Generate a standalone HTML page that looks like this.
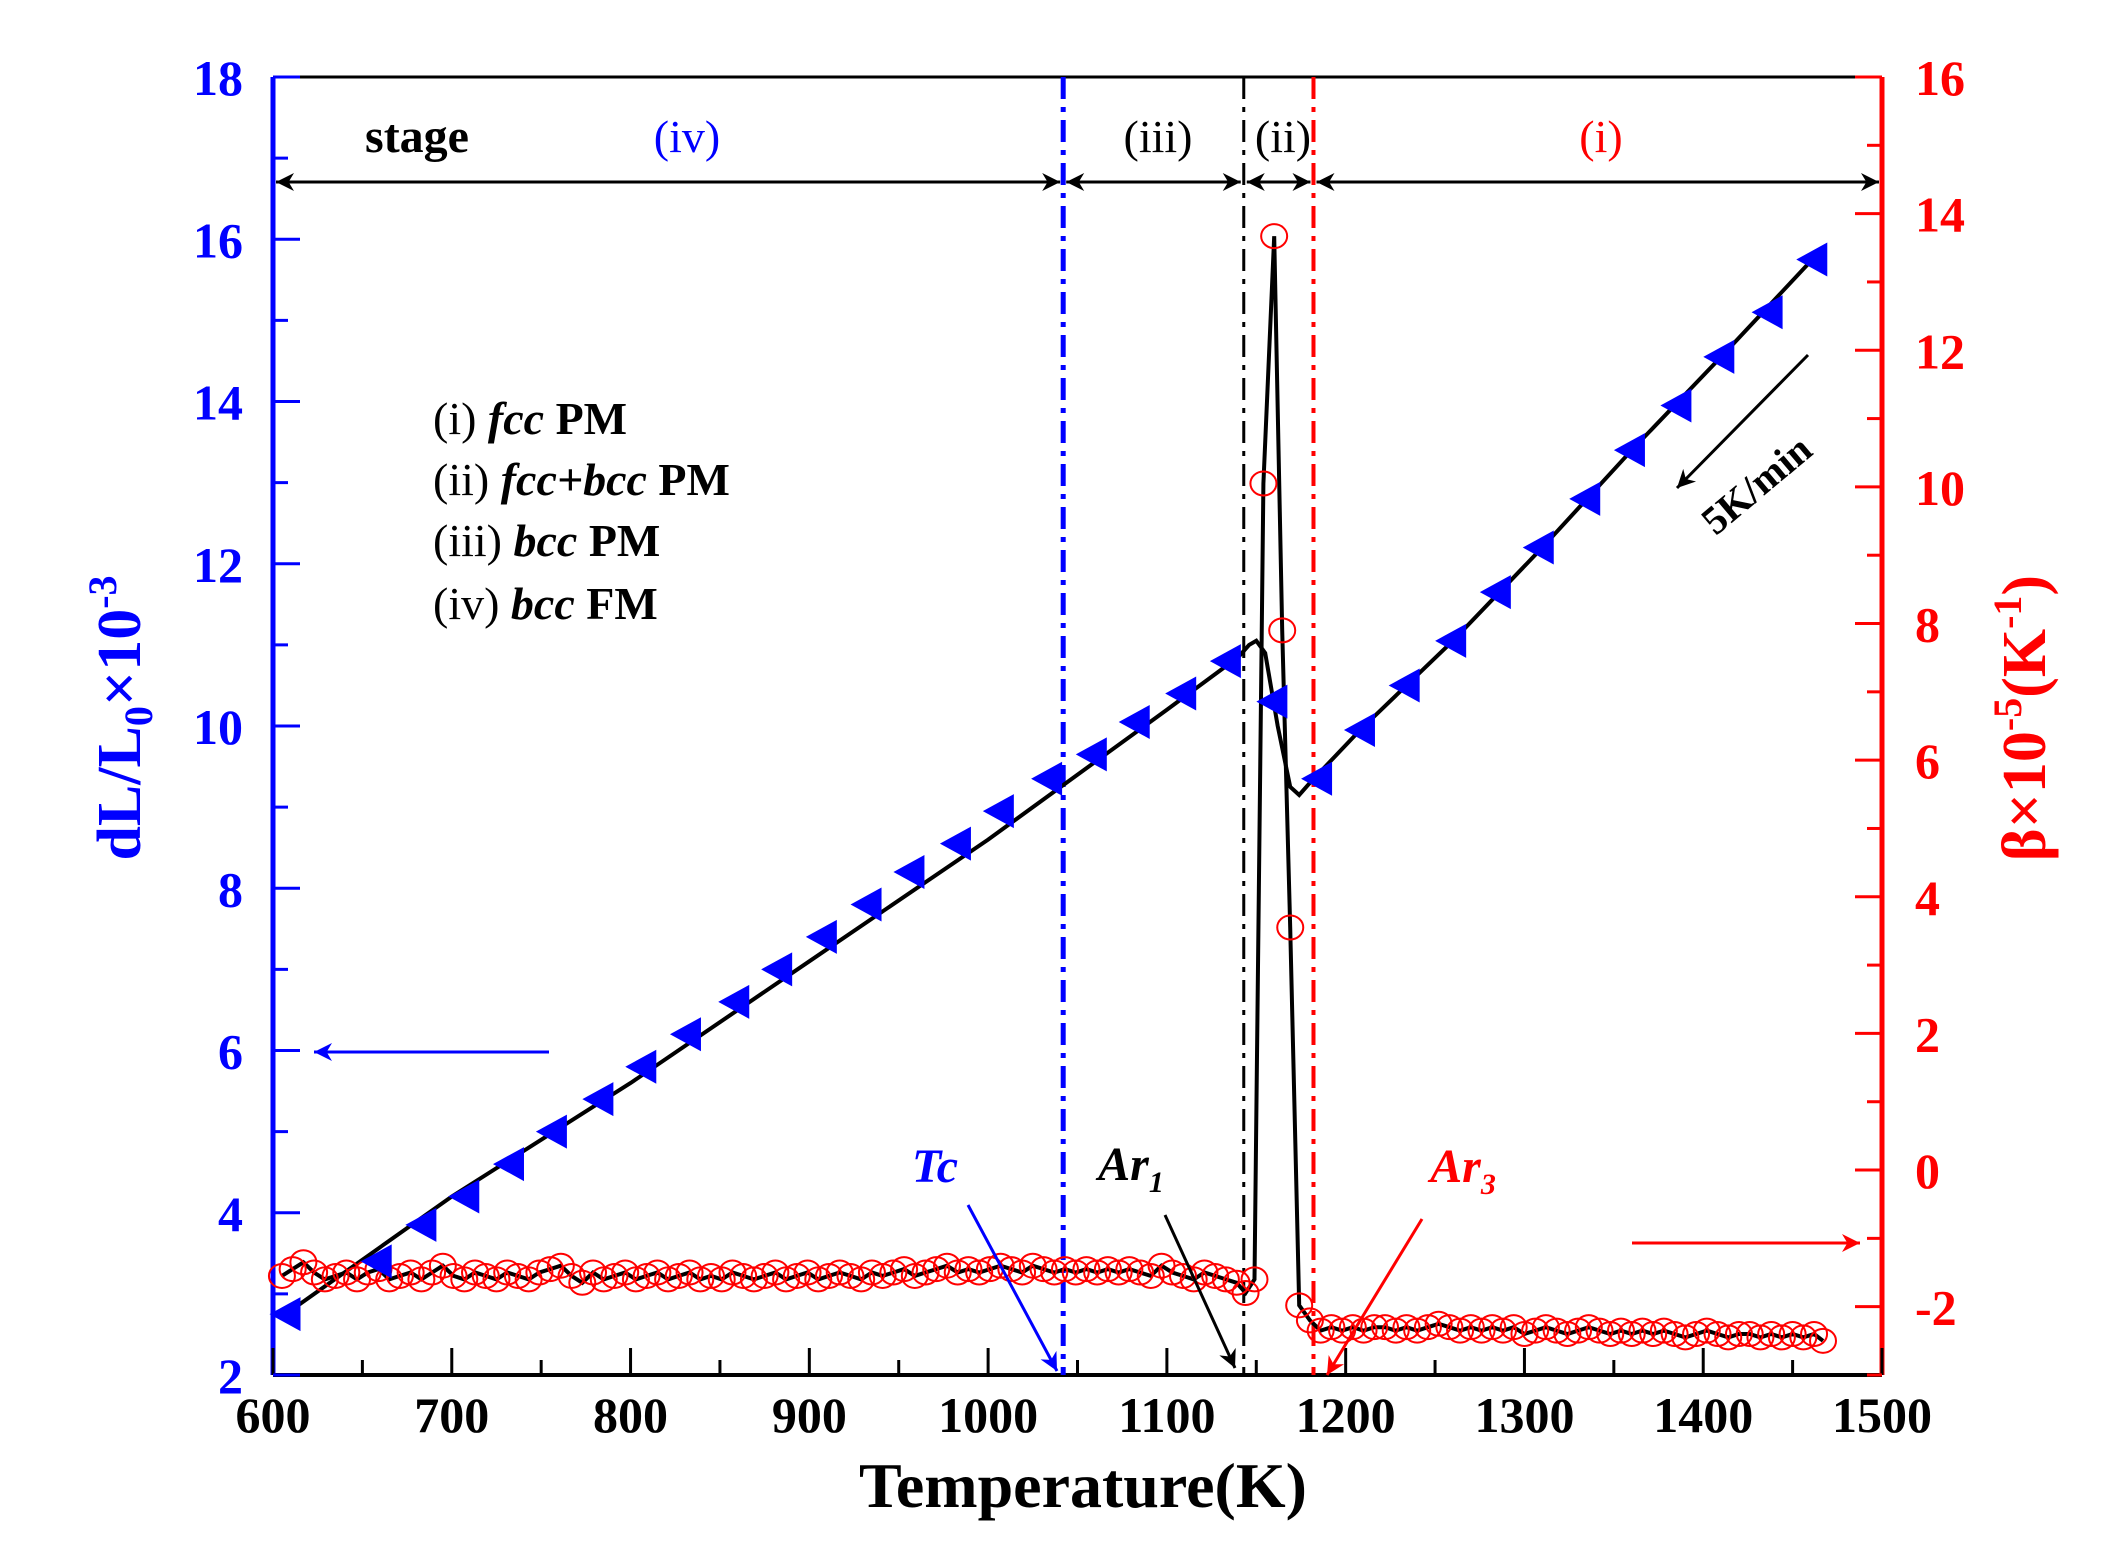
<!DOCTYPE html>
<html><head><meta charset="utf-8"><style>
html,body{margin:0;padding:0;background:#fff;}
svg{display:block;font-family:"Liberation Serif",serif;}
</style></head><body>
<svg id="chart" width="2113" height="1561" viewBox="0 0 2113 1561" xmlns="http://www.w3.org/2000/svg">
<defs>
<marker id="ahs" viewBox="0 0 10 10" refX="10" refY="5" markerWidth="24" markerHeight="18" orient="auto-start-reverse" markerUnits="userSpaceOnUse"><path d="M0,0 L10,5 L0,10 L3,5 z" fill="#000"/></marker>
<marker id="ahb" viewBox="0 0 10 10" refX="10" refY="5" markerWidth="24" markerHeight="18" orient="auto" markerUnits="userSpaceOnUse"><path d="M0,0 L10,5 L0,10 L3,5 z" fill="#00f"/></marker>
<marker id="ahr" viewBox="0 0 10 10" refX="10" refY="5" markerWidth="24" markerHeight="18" orient="auto" markerUnits="userSpaceOnUse"><path d="M0,0 L10,5 L0,10 L3,5 z" fill="#f00"/></marker>
</defs>
<g id="plot"></g>
</svg>
<script>
// ---- data ----
const xTicks = [600,700,800,900,1000,1100,1200,1300,1400,1500];
const yLeftTicks = [2,4,6,8,10,12,14,16,18];
const yRightTicks = [-2,0,2,4,6,8,10,12,14,16];
const triT = [607,658,683,707,732,756,782,806,831,858,882,907,932,956,982,1006,1033,1058,1082,1108,1133,1159,1184,1208,1233,1259,1284,1308,1334,1359,1385,1409,1436,1461];
const triV = [2.75,3.4,3.85,4.2,4.6,5.0,5.4,5.8,6.2,6.6,7.0,7.4,7.8,8.2,8.55,8.95,9.35,9.65,10.05,10.4,10.8,10.3,9.35,9.95,10.5,11.05,11.65,12.2,12.8,13.4,13.95,14.55,15.1,15.75];
const lineT = [607,700,800,900,1000,1100,1140,1146,1150,1155,1162,1169,1174,1180,1208,1260,1310,1360,1410,1461];
const lineV = [2.75,4.2,5.6,7.1,8.6,10.2,10.85,11.0,11.05,10.9,10.0,9.25,9.15,9.3,9.95,11.05,12.2,13.4,14.55,15.75];
const betaT = [605,611,617,623,629,635,641,647,653,659,665,671,677,683,689,695,701,707,713,719,725,731,737,743,749,755,761,767,773,779,785,791,797,803,809,815,821,827,833,839,845,851,857,863,869,875,881,887,893,899,905,911,917,923,929,935,941,947,953,959,965,971,977,983,989,995,1001,1007,1013,1019,1025,1031,1037,1043,1049,1055,1061,1067,1073,1079,1085,1091,1097,1103,1109,1115,1121,1127,1133,1139,1144,1149,1154,1160,1164.5,1169,1174,1180,1186,1192,1198,1204,1210,1216,1222,1228,1234,1240,1246,1252,1258,1264,1270,1276,1282,1288,1294,1300,1306,1312,1318,1324,1330,1336,1342,1348,1354,1360,1366,1372,1378,1384,1390,1396,1402,1408,1414,1420,1426,1432,1438,1444,1450,1456,1462,1467];
const betaV = [-1.55,-1.45,-1.35,-1.5,-1.6,-1.55,-1.5,-1.6,-1.5,-1.45,-1.6,-1.55,-1.5,-1.6,-1.5,-1.4,-1.55,-1.6,-1.5,-1.55,-1.6,-1.5,-1.55,-1.6,-1.5,-1.45,-1.4,-1.55,-1.65,-1.5,-1.6,-1.55,-1.5,-1.6,-1.55,-1.5,-1.6,-1.55,-1.5,-1.6,-1.55,-1.6,-1.5,-1.55,-1.6,-1.55,-1.5,-1.6,-1.55,-1.5,-1.6,-1.55,-1.5,-1.55,-1.6,-1.5,-1.55,-1.5,-1.45,-1.55,-1.5,-1.45,-1.4,-1.5,-1.45,-1.5,-1.45,-1.4,-1.45,-1.5,-1.4,-1.45,-1.5,-1.45,-1.5,-1.45,-1.5,-1.45,-1.5,-1.45,-1.5,-1.55,-1.4,-1.5,-1.55,-1.6,-1.5,-1.55,-1.6,-1.65,-1.8,-1.6,10.05,13.67,7.9,3.55,-1.98,-2.2,-2.35,-2.3,-2.35,-2.3,-2.35,-2.3,-2.3,-2.35,-2.3,-2.35,-2.3,-2.25,-2.3,-2.35,-2.3,-2.35,-2.3,-2.35,-2.3,-2.4,-2.35,-2.3,-2.35,-2.4,-2.35,-2.3,-2.35,-2.4,-2.35,-2.4,-2.35,-2.4,-2.35,-2.4,-2.45,-2.4,-2.35,-2.4,-2.45,-2.4,-2.4,-2.45,-2.4,-2.45,-2.4,-2.45,-2.4,-2.5];
const vlineT = [1042,1143,1182];
// ---- axes ----
const X0=273, X1=1882, Y0=77, Y1=1375;
const xs = t => X0 + (t-600)/900*(X1-X0);
const yl = v => Y1 - (v-2)/16*(Y1-Y0);
const yr = v => Y1 - (v+3)/19*(Y1-Y0);
const NS="http://www.w3.org/2000/svg";
const g=document.getElementById('plot');
function mk(tag,attrs,parent){const e=document.createElementNS(NS,tag);for(const k in attrs)e.setAttribute(k,attrs[k]);(parent||g).appendChild(e);return e;}

const frame=mk('g',{});


mk('line',{x1:X0,y1:Y0,x2:X1,y2:Y0,stroke:'#000','stroke-width':3},frame);
mk('line',{x1:X0,y1:Y1,x2:X1,y2:Y1,stroke:'#000','stroke-width':4},frame);
mk('line',{x1:X0,y1:Y0,x2:X0,y2:Y1,stroke:'#00f','stroke-width':5},frame);
mk('line',{x1:X1,y1:Y0,x2:X1,y2:Y1,stroke:'#f00','stroke-width':5},frame);

const xax=mk('g',{});


for(let t=600;t<=1500;t+=50){const major=t%100===0;mk('line',{x1:xs(t),y1:Y1,x2:xs(t),y2:Y1-(major?27:15),stroke:'#000','stroke-width':3},xax);}
xTicks.forEach(t=>{const e=mk('text',{x:xs(t),y:1432,'text-anchor':'middle','font-size':50,'font-weight':'bold',fill:'#000'},xax);e.textContent=t;

});

const ylax=mk('g',{});


for(let v=2;v<=18;v+=1){const major=v%2===0;mk('line',{x1:X0,y1:yl(v),x2:X0+(major?27:15),y2:yl(v),stroke:'#00f','stroke-width':3},ylax);}
yLeftTicks.forEach(v=>{const e=mk('text',{x:243,y:yl(v)+18,'text-anchor':'end','font-size':50,'font-weight':'bold',fill:'#00f'},ylax);e.textContent=v;

});

const yrax=mk('g',{});


for(let v=-3;v<=16;v+=1){const major=v%2===0;mk('line',{x1:X1,y1:yr(v),x2:X1-(major?27:15),y2:yr(v),stroke:'#f00','stroke-width':3},yrax);}
yRightTicks.forEach(v=>{const e=mk('text',{x:1915,y:yr(v)+18,'text-anchor':'start','font-size':50,'font-weight':'bold',fill:'#f00'},yrax);e.textContent=v;

});

const vcols=['#00f','#000','#f00'], vw=[5,3,4];
vlineT.forEach((t,i)=>{const e=mk('line',{x1:xs(t),y1:Y0,x2:xs(t),y2:Y1,stroke:vcols[i],'stroke-width':vw[i],'stroke-dasharray':'22,8,5,8'});

});

const bounds=[600].concat(vlineT).concat([1500]);
for(let i=0;i<bounds.length-1;i++){const e=mk('line',{x1:xs(bounds[i])+3,y1:182,x2:xs(bounds[i+1])-3,y2:182,stroke:'#000','stroke-width':3,'marker-start':'url(#ahs)','marker-end':'url(#ahs)'});

}

let d='';lineT.forEach((t,i)=>{d+=(i?'L':'M')+xs(t).toFixed(1)+','+yl(lineV[i]).toFixed(1);});
const dl=mk('path',{d:d,fill:'none',stroke:'#000','stroke-width':4});



let d2='';betaT.forEach((t,i)=>{d2+=(i?'L':'M')+xs(t).toFixed(1)+','+yr(betaV[i]).toFixed(1);});
const bl=mk('path',{d:d2,fill:'none',stroke:'#000','stroke-width':4});



const bc=mk('g',{});


betaT.forEach((t,i)=>{const c=mk('ellipse',{cx:xs(t),cy:yr(betaV[i]),rx:13,ry:12,fill:'none',stroke:'#f00','stroke-width':2},bc);

});

const tg=mk('g',{});


triT.forEach((t,i)=>{const x=xs(t),y=yl(triV[i]);const p=mk('polygon',{points:`${x-16},${y} ${x+15},${y-17} ${x+15},${y+17}`,fill:'#00f'},tg);

});

function arrow(x1,y1,x2,y2,col,m,name){const e=mk('line',{x1,y1,x2,y2,stroke:col,'stroke-width':3,'marker-end':m});

}
arrow(968,1205,1057,1371,'#00f','url(#ahb)','tc-arrow');
arrow(1165,1215,1235,1368,'#000','url(#ahs)','ar1-arrow');
arrow(1422,1219,1327,1375,'#f00','url(#ahr)','ar3-arrow');
arrow(549,1052,314,1052,'#00f','url(#ahb)','left-axis-arrow');
arrow(1632,1243,1860,1243,'#f00','url(#ahr)','right-axis-arrow');
arrow(1808,355,1677,488,'#000','url(#ahs)','cooling-rate-arrow');
</script>
<svg style="position:absolute;left:0;top:0" width="2113" height="1561">
<g font-family="Liberation Serif, serif">
<text x="417" y="152" text-anchor="middle" font-size="48" font-weight="bold">stage</text>
<text x="687" y="152" text-anchor="middle" font-size="46" fill="#00f">(iv)</text>
<text x="1158" y="152" text-anchor="middle" font-size="46">(iii)</text>
<text x="1283" y="152" text-anchor="middle" font-size="46">(ii)</text>
<text x="1601" y="152" text-anchor="middle" font-size="46" fill="#f00">(i)</text>
<g font-size="46" xml:space="preserve">
<text x="433" y="434">(i)   <tspan font-weight="bold" font-style="italic">fcc</tspan> <tspan font-weight="bold">PM</tspan></text>
<text x="433" y="495">(ii)  <tspan font-weight="bold" font-style="italic">fcc+bcc</tspan> <tspan font-weight="bold">PM</tspan></text>
<text x="433" y="556">(iii) <tspan font-weight="bold" font-style="italic">bcc</tspan> <tspan font-weight="bold">PM</tspan></text>
<text x="433" y="619">(iv)  <tspan font-weight="bold" font-style="italic">bcc</tspan> <tspan font-weight="bold">FM</tspan></text>
</g>
<text x="935" y="1182" text-anchor="middle" font-size="48" font-weight="bold" font-style="italic" fill="#00f">Tc</text>
<text x="1131" y="1180" text-anchor="middle" font-size="48" font-weight="bold" font-style="italic">Ar<tspan font-size="30" dy="12">1</tspan></text>
<text x="1463" y="1182" text-anchor="middle" font-size="48" font-weight="bold" font-style="italic" fill="#f00">Ar<tspan font-size="30" dy="12">3</tspan></text>
<text transform="translate(1765,495) rotate(-40)" text-anchor="middle" font-size="40" font-weight="bold">5K/min</text>
<text x="1083" y="1507" text-anchor="middle" font-size="64" font-weight="bold">Temperature(K)</text>
<text transform="translate(140,718) rotate(-90)" text-anchor="middle" font-size="62" font-weight="bold" fill="#00f">dL/L<tspan font-size="40" dy="12">0</tspan><tspan dy="-12">×10</tspan><tspan font-size="40" dy="-24">-3</tspan></text>
<text transform="translate(2045,718) rotate(-90)" text-anchor="middle" font-size="62" font-weight="bold" fill="#f00">β×10<tspan font-size="40" dy="-24">-5</tspan><tspan dy="24">(K</tspan><tspan font-size="40" dy="-24">-1</tspan><tspan dy="24">)</tspan></text>
</g>
</svg>
</body></html>
